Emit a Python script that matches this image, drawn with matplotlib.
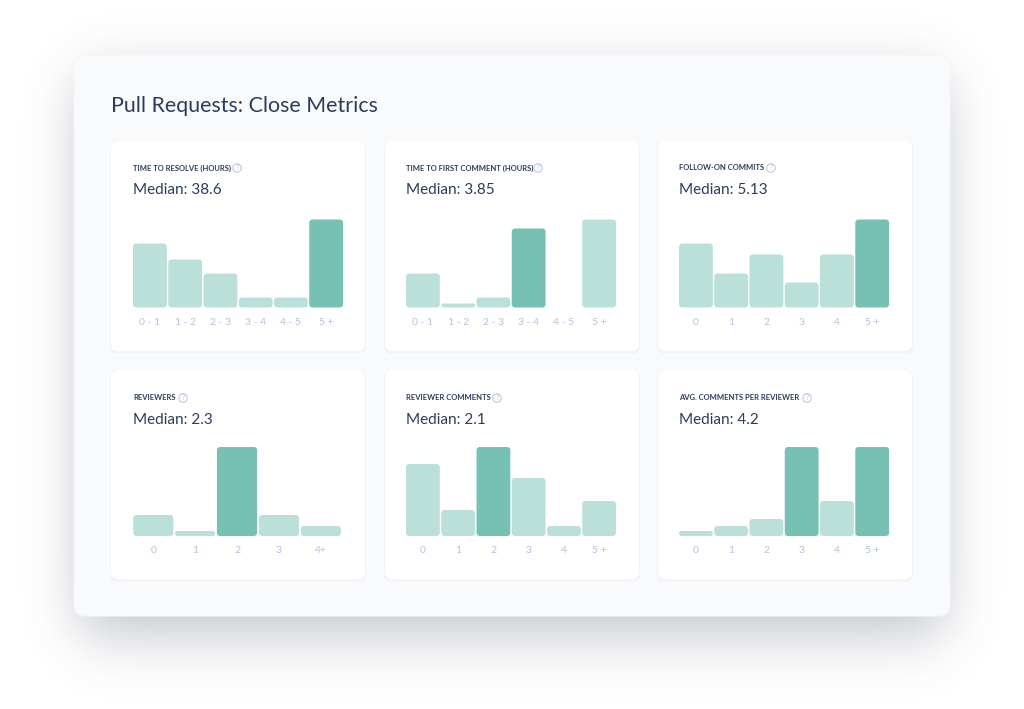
import numpy as np
import matplotlib
matplotlib.use("Agg")
import matplotlib.pyplot as plt
from matplotlib.patches import FancyBboxPatch, Circle
from math import erf

W, H = 1024, 709
plt.rcParams["font.family"] = ["Lato", "DejaVu Sans"]

# data, heights (same units in every panel)
titles = ["TIME TO RESOLVE (HOURS)", "TIME TO FIRST COMMENT (HOURS)", "FOLLOW-ON COMMITS",
          "REVIEWERS", "REVIEWER COMMENTS", "AVG. COMMENTS PER REVIEWER"]
medians = ["38.6", "3.85", "5.13", "2.3", "2.1", "4.2"]
labels = [["0 - 1", "1 - 2", "2 - 3", "3 - 4", "4 - 5", "5 +"],
          ["0 - 1", "1 - 2", "2 - 3", "3 - 4", "4 - 5", "5 +"],
          ["0", "1", "2", "3", "4", "5 +"],
          ["0", "1", "2", "3", "4+"],
          ["0", "1", "2", "3", "4", "5 +"],
          ["0", "1", "2", "3", "4", "5 +"]]
values = [[64, 48, 34, 10, 10, 88],
          [34, 4, 10, 79, 0, 88],
          [64, 34, 53, 25, 53, 88],
          [21, 5, 89, 21, 10],
          [72, 26, 89, 58, 10, 35],
          [5, 10, 17, 89, 35, 89]]
highlight = [[5], [3], [5], [2], [2], [3, 5]]

NAVY = "#2b3d5b"
DARK = "#76c1b3"
LIGHT = "#bbe0d9"
TICK = "#b3c2dd"

card_x = [111, 385, 658]
card_w = 254
card_y = [141, 371]
card_h = [210, 208]
text_x = [133, 406, 679]
icon_x = [237, 538, 771, 183, 497, 807]


def px_axes(fig, x0, y0, x1, y1):
    return fig.add_axes([x0 / W, 1 - y1 / H, (x1 - x0) / W, (y1 - y0) / H])


fig = plt.figure(figsize=(W / 100, H / 100), dpi=100, facecolor="white")
bg = fig.add_axes([0, 0, 1, 1])
bg.set_xlim(0, W)
bg.set_ylim(H, 0)
bg.axis("off")

# soft shadow under the big card
cdf = np.vectorize(lambda v: 0.5 * (1 + erf(v)))
xx = np.arange(W) + 0.5
yy = np.arange(H) + 0.5
sx = 26 * 1.414
sy = 30 * 1.414
shx = cdf((xx - 80) / sx) - cdf((xx - 944) / sx)
shy = cdf((yy - 80) / sy) - cdf((yy - 632) / sy)
alpha = np.outer(shy, shx) * 0.36
img = np.zeros((H, W, 4))
img[..., 0] = 0.30
img[..., 1] = 0.33
img[..., 2] = 0.40
img[..., 3] = alpha
bg.imshow(img, extent=(0, W, H, 0), aspect="auto", interpolation="bilinear", zorder=0)
bg.set_xlim(0, W)
bg.set_ylim(H, 0)

bg.add_patch(FancyBboxPatch((74, 55), 876, 561, boxstyle="round,pad=0,rounding_size=11",
                            fc="#f9fafc", ec="#f3f5f8", lw=0.8, zorder=1))
bg.text(111, 106, "Pull Requests: Close Metrics", fontsize=15.4, color=NAVY, va="center", zorder=3)

for i in range(6):
    row = i // 3
    col = i % 3
    cx = card_x[col]
    cy = card_y[row]
    tx = text_x[col]
    # faint card shadow first, then the white card
    bg.add_patch(FancyBboxPatch((cx - 1, cy), card_w + 2, card_h[row] + 2.5,
                                boxstyle="round,pad=0,rounding_size=7",
                                fc="#f1f3f7", ec="none", zorder=1.5))
    bg.add_patch(FancyBboxPatch((cx, cy), card_w, card_h[row], boxstyle="round,pad=0,rounding_size=7",
                                fc="white", ec="none", zorder=2))
    bg.text(tx, cy + 27, titles[i], fontsize=5.5, fontweight="bold", color=NAVY,
            va="center", zorder=3)
    bg.text(tx, cy + 48.5, "Median: " + medians[i], fontsize=11, color=NAVY,
            va="center", zorder=3)
    # little help icon
    bg.add_patch(Circle((icon_x[i], cy + 27), 4.2, fc="white", ec=TICK, lw=0.7, zorder=3))
    bg.text(icon_x[i], cy + 27, "?", fontsize=5.5, color=TICK, ha="center", va="center", zorder=4)

    base = 307.5 if row == 0 else 536
    top = base - 89
    x0 = tx - 0.7
    x1 = x0 + 211.5 if len(values[i]) == 6 else x0 + 209.5
    ax = px_axes(fig, x0, top, x1, base)
    ax.patch.set_alpha(0)
    n = len(values[i])
    ax.set_xlim(-0.5, n - 0.5)
    ax.set_ylim(0, 89)
    bars = ax.bar(range(n), values[i], width=0.96)
    # swap the square bars for rounded ones
    xscale = (x1 - x0) / n
    for j, b in enumerate(bars):
        b.set_visible(False)
        h = b.get_height()
        if h == 0:
            continue
        r = min(3.5, h / 2) / xscale
        col_j = DARK if j in highlight[i] else LIGHT
        ax.add_patch(FancyBboxPatch((b.get_x(), 0), b.get_width(), h,
                                    boxstyle=f"round,pad=0,rounding_size={r}",
                                    mutation_aspect=xscale, fc=col_j, ec="none"))
    ax.set_xticks(range(n))
    ax.set_xticklabels(labels[i], fontsize=7.5, color=TICK)
    ax.tick_params(axis="x", length=0, pad=7.5)
    ax.set_yticks([])
    for s in ax.spines.values():
        s.set_visible(False)

fig.savefig("out.png", dpi=100)
